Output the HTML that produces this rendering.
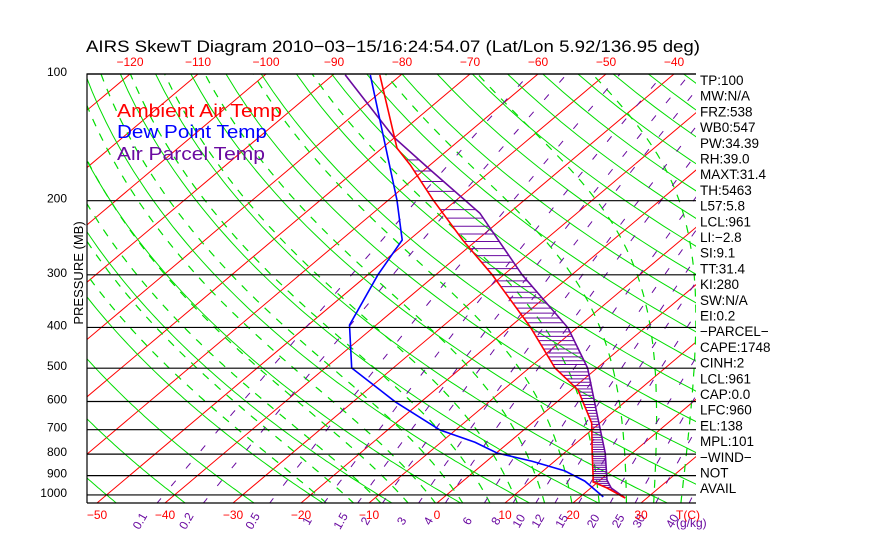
<!DOCTYPE html>
<html><head><meta charset="utf-8"><style>
html,body{margin:0;padding:0;background:#fff;}
svg{display:block;font-family:"Liberation Sans",sans-serif;}
</style></head><body>
<svg id="c" width="870" height="560" viewBox="0 0 870 560">
<defs><clipPath id="clip"><rect x="87" y="74" width="609" height="429"/></clipPath></defs>
<rect x="0" y="0" width="870" height="560" fill="#fff"/>
<text x="86" y="52" font-size="16.5" fill="#000" textLength="614" lengthAdjust="spacingAndGlyphs">AIRS SkewT Diagram 2010−03−15/16:24:54.07 (Lat/Lon 5.92/136.95 deg)</text>
<g id="grid" clip-path="url(#clip)"></g>
<g id="series" clip-path="url(#clip)"></g>
<g id="axes"></g>
<text x="117" y="117" font-size="18" fill="#ff0000" textLength="165" lengthAdjust="spacingAndGlyphs">Ambient Air Temp</text>
<text x="117" y="138" font-size="18" fill="#0000ff" textLength="150" lengthAdjust="spacingAndGlyphs">Dew Point Temp</text>
<text x="117" y="160" font-size="18" fill="#6a0aa0" textLength="148" lengthAdjust="spacingAndGlyphs">Air Parcel Temp</text>
<text transform="translate(83,273) rotate(-90)" text-anchor="middle" font-size="13" fill="#000">PRESSURE (MB)</text>
<g id="info"></g>
</svg>
<script>
const pressureTicks=[100,200,300,400,500,600,700,800,900,1000];
const isoTicksTop=[-120,-110,-100,-90,-80,-70,-60,-50,-40];
const isoTicksBottom=[-50,-40,-30,-20,-10,0,10,20,30];
const mixRatios=[0.1,0.2,0.5,1,1.5,2,3,4,6,8,10,12,15,20,25,30,40];
const tempP=[100.5,150,164.5,199,248,300,399,499.5,563,675,795,906,932,963,1017];
const tempT=[-83.1,-67.8,-62.9,-53.5,-42.1,-31.7,-17.0,-6.2,1.0,8.8,14.1,18.4,19.3,22.4,26.8];
const dewP=[100.5,199,248,300,395,499.5,601,701,750,795,831,877,927,1011];
const dewT=[-84.5,-58.8,-51.0,-48.5,-43.9,-36.1,-23.8,-12.3,-5.0,0.1,6.6,13.2,17.9,23.4];
const parcelP=[100.5,141,169,214,300,401,499.5,639,795,922,963,1017];
const parcelT=[-88.2,-70.3,-59.1,-44.3,-27.3,-11.3,-1.4,7.8,16.0,21.0,23.0,26.8];
const infoLines=["TP:100","MW:N/A","FRZ:538","WB0:547","PW:34.39","RH:39.0","MAXT:31.4","TH:5463","L57:5.8","LCL:961","LI:−2.8","SI:9.1","TT:31.4","KI:280","SW:N/A","EI:0.2","−PARCEL−","CAPE:1748","CINH:2","LCL:961","CAP:0.0","LFC:960","EL:138","MPL:101","−WIND−","NOT","AVAIL"];

const NS='http://www.w3.org/2000/svg';
const X0=87,X1=696,YT=74,YB=503;
function yP(p){return 74+182.8*Math.log(p/100);}
function xT(t,y){return 437+6.8*t+(503-y)*1.1865;}
function mk(tag,parent,attrs){const e=document.createElementNS(NS,tag);for(const k in attrs)e.setAttribute(k,attrs[k]);parent.appendChild(e);return e;}
const grid=document.getElementById('grid'),series=document.getElementById('series'),axes=document.getElementById('axes'),info=document.getElementById('info');
function pathFrom(pts){return 'M'+pts.map(q=>q[0].toFixed(1)+','+q[1].toFixed(1)).join('L');}

for(let t=-140;t<=40;t+=10){
  const el=mk('line',grid,{x1:xT(t,YB),y1:YB,x2:xT(t,YT),y2:YT,stroke:'#ff0000','stroke-width':1});
  
  
}
for(let th=-60;th<=250;th+=10){
  const pts=[];
  for(let p=1050;p>=100;p-=10){const T=(th+273.15)*Math.pow(p/1000,0.286)-273.15;const y=yP(p);pts.push([xT(T,y),y]);}
  const el=mk('path',grid,{d:pathFrom(pts),fill:'none',stroke:'#00dd00','stroke-width':1});
  
  
}
function es(t){return 6.112*Math.exp(17.67*t/(t+243.5));}
for(let t0=-16;t0<=44;t0+=4){
  const pts=[];let T=t0+273.15;
  for(let p=1050;p>=100;p-=5){
    const y=yP(p);pts.push([xT(T-273.15,y),y]);
    const e=es(T-273.15);const rs=0.622*e/(p-e);
    const dTdp=(287*T+2.5e6*rs)/(p*(1004+2.5e6*2.5e6*rs*0.622/(287*T*T)));
    T-=dTdp*5;
  }
  const el=mk('path',grid,{d:pathFrom(pts),fill:'none',stroke:'#00dd00','stroke-width':1.2,'stroke-dasharray':'8,8'});
  
  
}
function tdFromE(e){const l=Math.log(e/6.112);return 243.5*l/(17.67-l);}
mixRatios.forEach(w=>{
  const pts=[];
  for(let p=1050;p>=100;p-=10){const e=w*p/(622+w);const T=tdFromE(e);const y=yP(p);pts.push([xT(T,y),y]);}
  const el=mk('path',grid,{d:pathFrom(pts),fill:'none',stroke:'#6a0aa0','stroke-width':1,'stroke-dasharray':'7,16'});
  
  
  const e=w*1050/(622+w);const xb=xT(tdFromE(e),YB);
  const lb=mk('text',axes,{x:0,y:0,'font-size':12,fill:'#6a0aa0','text-anchor':'middle',transform:'translate('+(xb-14)+',523) rotate(-60)'});
  lb.textContent=String(w);
  
  
});
const gk=mk('text',axes,{x:676,y:527,'font-size':12,fill:'#6a0aa0'});gk.textContent='(g/kg)';



pressureTicks.forEach(p=>{
  const y=yP(p);
  const el=mk('line',axes,{x1:X0,y1:y,x2:X1,y2:y,stroke:'#000','stroke-width':1.2});
  
  
  const t=mk('text',axes,{x:67,y:y+2,'font-size':12,fill:'#000','text-anchor':'end'});t.textContent=String(p);
  
  
});
const fr=mk('path',axes,{d:'M'+X0+','+YB+'V'+YT+'H'+X1+'M'+X0+','+YB+'H'+X1,fill:'none',stroke:'#000','stroke-width':1.2});


isoTicksTop.forEach(t=>{const tx=mk('text',axes,{x:xT(t,YT),y:66,'font-size':12,fill:'#ff0000','text-anchor':'middle'});tx.textContent=String(t).replace('-','−');
  
  });
isoTicksBottom.forEach(t=>{const tx=mk('text',axes,{x:xT(t,YB),y:519,'font-size':12,fill:'#ff0000','text-anchor':'middle'});tx.textContent=String(t).replace('-','−');
  
  });
const tc=mk('text',axes,{x:676,y:519,'font-size':12,fill:'#ff0000'});tc.textContent='T(C)';



function interp(P,T,p){for(let i=0;i<P.length-1;i++){if(p>=P[i]&&p<=P[i+1]){const f=(Math.log(p)-Math.log(P[i]))/(Math.log(P[i+1])-Math.log(P[i]));return T[i]+f*(T[i+1]-T[i]);}}return null;}
for(let p=160;p<=1010;p+=10){
  const a=interp(tempP,tempT,p),b=interp(parcelP,parcelT,p);if(a===null||b===null)continue;
  const y=yP(p);const xa=xT(a,y),xb=xT(b,y);
  if(xb>xa+0.5){const h=mk('line',series,{x1:xa,y1:y,x2:xb,y2:y,stroke:'#6a0aa0','stroke-width':1});
    
    }
}
function prof(P,T,col,name){
  const pts=P.map((p,i)=>{const y=yP(p);return [xT(T[i],y),y];});
  const el=mk('path',series,{d:pathFrom(pts),fill:'none',stroke:col,'stroke-width':1.6});
  
  
}
prof(parcelP,parcelT,'#6a0aa0','parcel-temp-line');
prof(dewP,dewT,'#0000ff','dewpoint-line');
prof(tempP,tempT,'#ff0000','ambient-temp-line');

infoLines.forEach((s,i)=>{
  const t=mk('text',info,{x:700,y:85+i*15.7,'font-size':13.5,fill:'#000'});t.textContent=s;
  
  
});
</script>
</body></html>
